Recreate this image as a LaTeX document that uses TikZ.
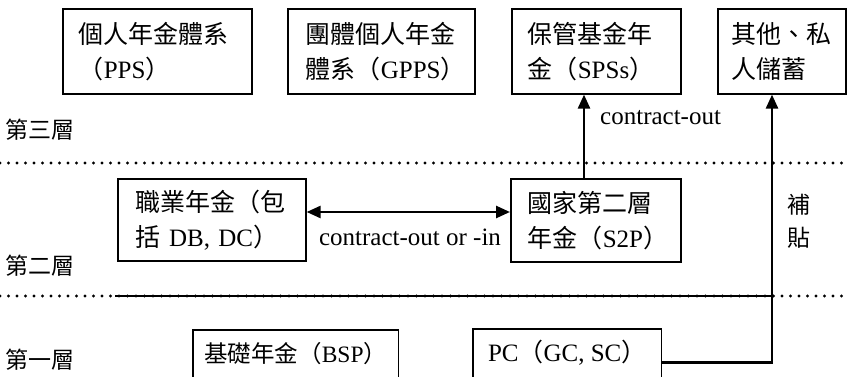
\documentclass[tikz,border=0pt]{standalone}
\usepackage{fontspec}
\setmainfont{Liberation Serif}
\newfontfamily\cjk{Noto Sans CJK TC}
\usetikzlibrary{arrows.meta}
\newcommand{\zh}[1]{{\cjk #1}}
\begin{document}
\begin{tikzpicture}[x=1pt,y=-1pt,
  box/.style={draw, line width=1.6pt, rectangle, anchor=north west, align=left,
    inner ysep=0pt, font=\fontsize{25}{35}\selectfont},
  openbox/.style={rectangle, anchor=north west, align=center, inner sep=0pt,
    font=\fontsize{25}{35}\selectfont},
  side/.style={line width=1.6pt},
  layer/.style={anchor=west, inner sep=0pt, font=\fontsize{23}{28}\selectfont\cjk},
  lbl/.style={inner sep=0pt, font=\fontsize{25}{30}\selectfont},
  dotline/.style={line width=3.3pt, line cap=round, dash pattern=on 0pt off 8.5pt},
  denseline/.style={line width=2.6pt},
  arr/.style={line width=2.5pt, -{Triangle[length=14pt,width=12pt]}},
  arr2/.style={line width=2.5pt, {Triangle[length=14pt,width=12pt]}-{Triangle[length=14pt,width=12pt]}}
]
\useasboundingbox (0,0) rectangle (848,377);
\clip (0,0) rectangle (848,377);
\fill[white] (0,0) rectangle (848,377);

% third tier boxes
\node[box, minimum height=85, text width=157, inner xsep=16] (pps) at (62,8)
  {\zh{個人年金體系}\\\zh{（}PPS\zh{）}};
\node[box, minimum height=85, text width=151, inner xsep=18] (gpps) at (287,8)
  {\zh{團體個人年金}\\\zh{體系（}GPPS\zh{）}};
\node[box, minimum height=85, text width=137, inner xsep=16] (sps) at (511,8)
  {\zh{保管基金年}\\\zh{金（}SPSs\zh{）}};
\node[box, minimum height=85, text width=100, inner xsep=14] (oth) at (717,8)
  {\zh{其他、私}\\\zh{人儲蓄}};

% second tier boxes
\node[box, minimum height=82, text width=152, inner xsep=18] (job) at (117,178)
  {\zh{職業年金（包}\\\zh{括} DB, DC\zh{）}};
\node[box, minimum height=83, text width=136, inner xsep=17] (s2p) at (510,178)
  {\zh{國家第二層}\\\zh{年金（}S2P\zh{）}};

% first tier boxes (cut by the lower edge)
\node[openbox, minimum width=205, minimum height=47, font=\fontsize{23.5}{30}\selectfont] (bsp) at (193,330)
  {\zh{基礎年金（}BSP\zh{）}};
\draw[side] (bsp.south west) -- (bsp.north west) -- (bsp.north east) -- (bsp.south east);
\node[openbox, minimum width=188, minimum height=48] (pc) at (473,329)
  {PC\zh{（}GC, SC\zh{）}};
\draw[side] (pc.south west) -- (pc.north west) -- (pc.north east) -- (pc.south east);

% tier labels
\node[layer] (l3) at (5,130) {第三層};
\node[layer] (l2) at (5,266) {第二層};
\node[layer] (l1) at (5,360) {第一層};

% separators
\coordinate (d1l) at (0,163);
\coordinate (d1r) at (848,163);
\draw[dotline] (d1l) -- (d1r);
\coordinate (d2l) at (0,296);
\coordinate (d2r) at (848,296);
\coordinate (d2a) at (115,296);
\coordinate (d2b) at (772,296);
\draw[dotline] (d2l) -- (d2r);
\draw[denseline] (d2a) -- (d2b);

% connectors
\coordinate (xa) at (584,0);
\draw[arr] (xa |- s2p.north) -- (xa |- sps.south);
\node[lbl, anchor=west] (co) at (600,118) {contract-out};

\coordinate (ya) at (0,212);
\draw[arr2] (job.east |- ya) -- (s2p.west |- ya);
\node[lbl] (coi) at (410,237) {contract-out or -in};

\coordinate (xb) at (772,0);
\draw[arr] ([yshift=-9.5pt]pc.east) -| (xb |- oth.south);
\node[layer, anchor=center, align=center, font=\fontsize{23}{33}\selectfont\cjk] (sub) at (799,221) {補\\貼};
\end{tikzpicture}
\end{document}
